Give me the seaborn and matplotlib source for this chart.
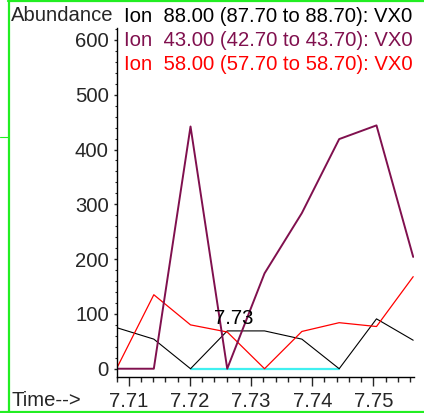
import matplotlib
matplotlib.use("Agg")
import matplotlib.pyplot as plt
from matplotlib.lines import Line2D
from matplotlib.ticker import MultipleLocator, FormatStrFormatter
import seaborn as sns
import pandas as pd

# Retention time (min) and ion abundances
time = [7.7080, 7.7141, 7.7201, 7.7261, 7.7322, 7.7383, 7.7444, 7.7505, 7.7565]
ion88 = [75, 54, 0, 69, 69, 54, 0, 91, 52]
ion43 = [0, 0, 442, 0, 174, 284, 419, 444, 204]
ion58 = [0, 135, 80, 67, 0, 68, 84, 77, 168]

# Integration baseline under the peak
base_time = [7.7201, 7.7444]
base_level = [0, 0]

peak_label = "7.73"
peak_label_time = 7.7271
peak_label_level = 81

ion_labels = [
    "Ion  88.00 (87.70 to 88.70): VX0",
    "Ion  43.00 (42.70 to 43.70): VX0",
    "Ion  58.00 (57.70 to 58.70): VX0",
]
ion_colors = ["#000000", "#80104E", "#FF0000"]

sns.set_style("ticks")
plt.rcParams["font.family"] = ["Liberation Sans", "DejaVu Sans"]

FS = 14.6
W, H = 424, 413
fig = plt.figure(figsize=(W / 100, H / 100), dpi=100)
ax = fig.add_axes([116.5 / W, 1 - 377 / H, (413.5 - 116.5) / W, (377 - 28) / H])

df = pd.DataFrame({"time": time, "ion88": ion88, "ion43": ion43, "ion58": ion58})
base_df = pd.DataFrame({"time": base_time, "level": base_level})

sns.lineplot(data=base_df, x="time", y="level", ax=ax, color="#40F0F0", linewidth=1.6)
sns.lineplot(data=df, x="time", y="ion88", ax=ax, color=ion_colors[0], linewidth=0.8)
sns.lineplot(data=df, x="time", y="ion58", ax=ax, color=ion_colors[2], linewidth=0.9)
sns.lineplot(data=df, x="time", y="ion43", ax=ax, color=ion_colors[1], linewidth=1.4)

ax.text(peak_label_time, peak_label_level, peak_label, ha="center", va="baseline",
        fontsize=FS, color="black")

ax.set_xlim(7.7080, 7.75655)
ax.set_ylim(-15.1, 621.7)
ax.set_xlabel("")
ax.set_ylabel("")

for side in ("top", "right"):
    ax.spines[side].set_visible(False)
for side in ("left", "bottom"):
    ax.spines[side].set_linewidth(1.0)
    ax.spines[side].set_color("black")

ax.xaxis.set_major_locator(MultipleLocator(0.01))
ax.xaxis.set_minor_locator(MultipleLocator(0.002))
ax.xaxis.set_major_formatter(FormatStrFormatter("%.2f"))
ax.yaxis.set_major_locator(MultipleLocator(100))
ax.yaxis.set_minor_locator(MultipleLocator(20))

ax.tick_params(axis="x", which="major", direction="out", length=6.5, width=1.0,
               labelsize=FS, pad=4)
ax.tick_params(axis="x", which="minor", direction="out", length=3.6, width=1.0)
ax.tick_params(axis="y", which="major", direction="out", length=2.5, width=1.0,
               labelsize=FS, pad=3)
ax.tick_params(axis="y", which="minor", direction="out", length=1.5, width=0.8)

# Header and axis captions
fig.text(11 / W, 1 - 21 / H, "Abundance", fontsize=FS, ha="left", va="baseline")
for i, (label, col) in enumerate(zip(ion_labels, ion_colors)):
    fig.text(124 / W, 1 - (21.5 + 24.5 * i) / H, label, fontsize=FS, color=col,
             ha="left", va="baseline")
fig.text(11 / W, 1 - 406.5 / H, "Time-->", fontsize=FS, ha="left", va="baseline")

# Green window frame
green = "#22EE22"
def px_line(xs, ys, lw):
    fig.add_artist(Line2D([x / W for x in xs], [1 - y / H for y in ys],
                          color=green, linewidth=lw, transform=fig.transFigure))

px_line([9, 9], [0, 412], 1.6)
px_line([8, W], [1, 1], 1.6)
px_line([0, W], [411.7, 411.7], 1.6)
px_line([0, 8], [136.5, 136.5], 0.8)

fig.savefig("out.png", dpi=100)
